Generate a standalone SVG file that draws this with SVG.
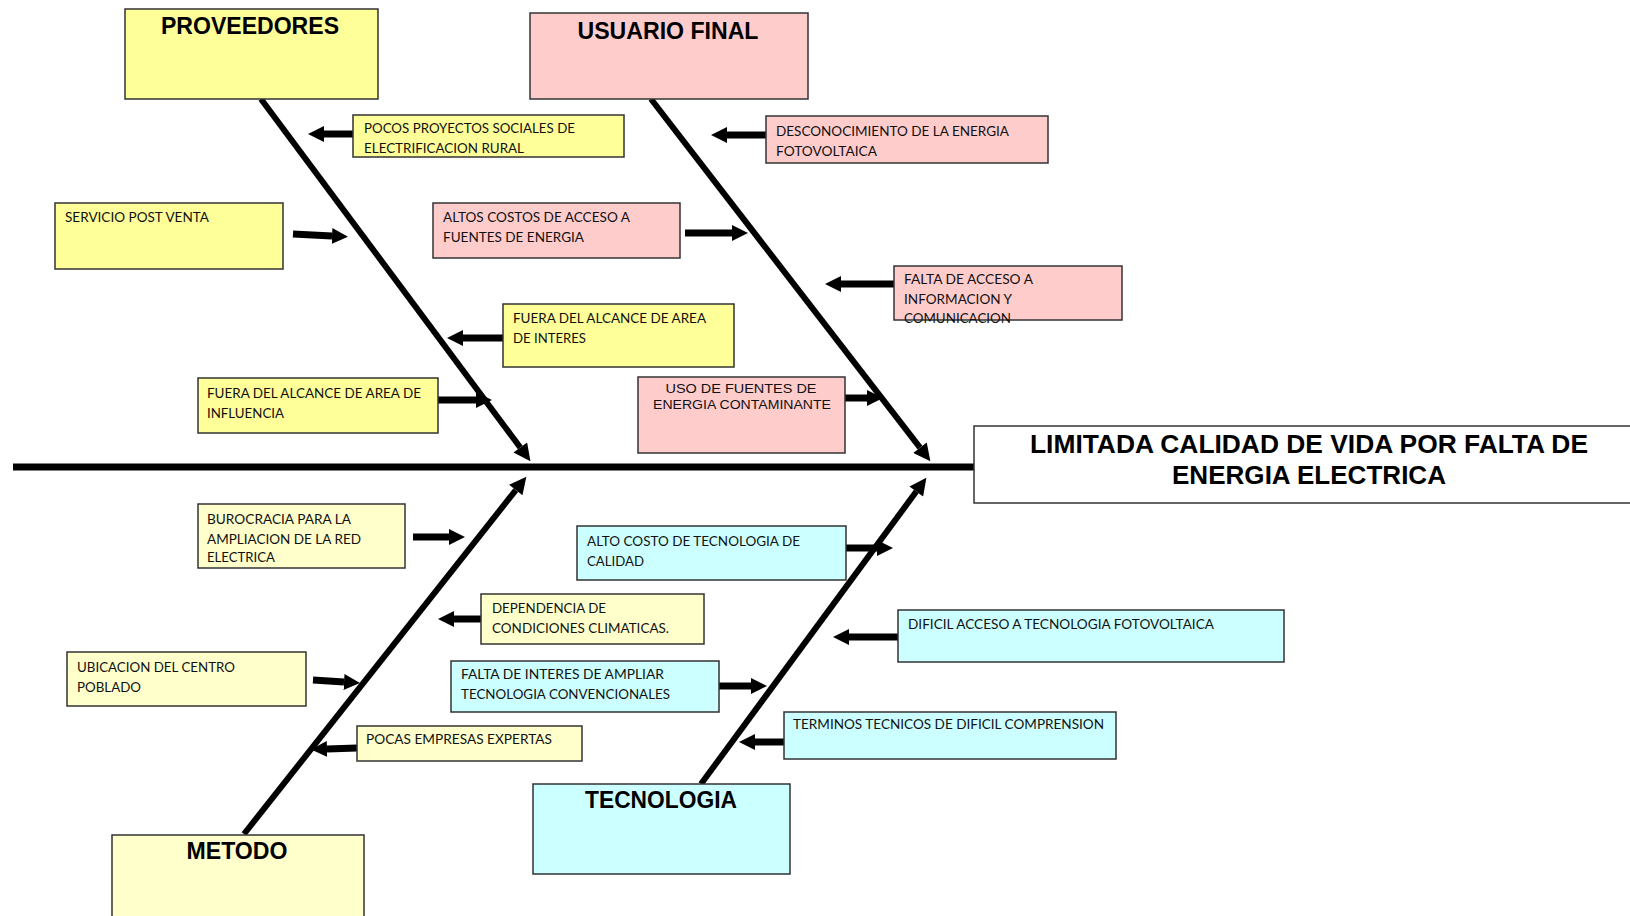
<svg xmlns="http://www.w3.org/2000/svg" width="1630" height="916" viewBox="0 0 1630 916">
  <style>
    .box { stroke: #333333; stroke-width: 1.5; }
    .prov { fill: #FFFF99; }
    .usu { fill: #FFCCCC; }
    .met { fill: #FFFFCC; }
    .tec { fill: #CCFFFF; }
    .head { font-family: "Liberation Sans", Arial, sans-serif; font-weight: bold; font-size: 23px; fill: #000; text-anchor: middle; }
    .title { font-family: "Liberation Sans", Arial, sans-serif; font-weight: bold; font-size: 25px; fill: #000; text-anchor: middle; }
    .lbl { font-family: Lato, "Open Sans", sans-serif; font-size: 13px; fill: #111; }
    .lbl2 { font-family: "Liberation Sans", Arial, sans-serif; font-size: 13px; fill: #111; text-anchor: middle; }
    .spine { stroke: #000; stroke-width: 6; fill: none; }
    .arr { stroke: #000; stroke-width: 7; fill: none; }
  </style>
  <defs>
    <marker id="bigHead" viewBox="0 0 10 10" refX="0" refY="5" markerUnits="userSpaceOnUse" markerWidth="19" markerHeight="17" orient="auto">
      <path d="M0,0 L10,5 L0,10 z" fill="#000"/>
    </marker>
    <marker id="smallHead" viewBox="0 0 10 10" refX="0" refY="5" markerUnits="userSpaceOnUse" markerWidth="16" markerHeight="19" orient="auto">
      <path d="M0,0 L10,5 L0,10 z" fill="#000"/>
    </marker>
  </defs>
  <rect width="1630" height="916" fill="#ffffff"/>

  <!-- spines and cause arrows -->
  <g id="connectors">
    <line x1="13" y1="467" x2="974" y2="467" stroke="#000" stroke-width="7"/>
    <line class="spine" x1="261" y1="99" x2="520.3" y2="447.5" marker-end="url(#bigHead)"/>
    <line class="spine" x1="651" y1="99" x2="920" y2="447.7" marker-end="url(#bigHead)"/>
    <line class="spine" x1="244" y1="834" x2="515.8" y2="490.1" marker-end="url(#bigHead)"/>
    <line class="spine" x1="701" y1="784" x2="916.3" y2="491.5" marker-end="url(#bigHead)"/>

    <line class="arr" x1="353" y1="134" x2="324" y2="134" marker-end="url(#smallHead)"/>
    <line class="arr" x1="293" y1="234" x2="332" y2="236" marker-end="url(#smallHead)"/>
    <line class="arr" x1="685" y1="233" x2="732" y2="233" marker-end="url(#smallHead)"/>
    <line class="arr" x1="766" y1="135" x2="727" y2="135" marker-end="url(#smallHead)"/>
    <line class="arr" x1="503" y1="338" x2="463" y2="338" marker-end="url(#smallHead)"/>
    <line class="arr" x1="438" y1="400" x2="476" y2="400" marker-end="url(#smallHead)"/>
    <line class="arr" x1="845" y1="398" x2="867" y2="398" marker-end="url(#smallHead)"/>
    <line class="arr" x1="894" y1="284" x2="841" y2="284" marker-end="url(#smallHead)"/>
    <line class="arr" x1="413" y1="537" x2="449" y2="537" marker-end="url(#smallHead)"/>
    <line class="arr" x1="846" y1="548" x2="877" y2="548" marker-end="url(#smallHead)"/>
    <line class="arr" x1="481" y1="619" x2="454" y2="619" marker-end="url(#smallHead)"/>
    <line class="arr" x1="313" y1="680" x2="344" y2="682" marker-end="url(#smallHead)"/>
    <line class="arr" x1="719" y1="686" x2="751" y2="686" marker-end="url(#smallHead)"/>
    <line class="arr" x1="357" y1="748" x2="327" y2="749" marker-end="url(#smallHead)"/>
    <line class="arr" x1="784" y1="742" x2="755" y2="742" marker-end="url(#smallHead)"/>
    <line class="arr" x1="898" y1="637" x2="849" y2="637" marker-end="url(#smallHead)"/>
  </g>

  <!-- effect -->
  <g id="efecto">
    <rect class="box" x="974" y="426" width="660" height="77" fill="#ffffff"/>
    <text class="title" x="1309" y="453" textLength="558" lengthAdjust="spacingAndGlyphs">LIMITADA CALIDAD DE VIDA POR FALTA DE</text>
    <text class="title" x="1309" y="484" textLength="274" lengthAdjust="spacingAndGlyphs">ENERGIA ELECTRICA</text>
  </g>

  <!-- category heads -->
  <g id="proveedores">
    <rect class="box prov" x="125" y="9" width="253" height="90"/>
    <text class="head" x="250" y="34" textLength="178" lengthAdjust="spacingAndGlyphs">PROVEEDORES</text>
  </g>
  <g id="usuario-final">
    <rect class="box usu" x="530" y="13" width="278" height="86"/>
    <text class="head" x="668" y="39" textLength="181" lengthAdjust="spacingAndGlyphs">USUARIO FINAL</text>
  </g>
  <g id="metodo">
    <rect class="box met" x="112" y="835" width="252" height="100"/>
    <text class="head" x="237" y="859" textLength="101" lengthAdjust="spacingAndGlyphs">METODO</text>
  </g>
  <g id="tecnologia">
    <rect class="box tec" x="533" y="784" width="257" height="90"/>
    <text class="head" x="661" y="808" textLength="152" lengthAdjust="spacingAndGlyphs">TECNOLOGIA</text>
  </g>

  <!-- causes: proveedores -->
  <g id="pocos-proyectos">
    <rect class="box prov" x="353" y="115" width="271" height="42"/>
    <text class="lbl" x="364" y="133" textLength="211" lengthAdjust="spacingAndGlyphs">POCOS PROYECTOS SOCIALES DE</text>
    <text class="lbl" x="364" y="153" textLength="160" lengthAdjust="spacingAndGlyphs">ELECTRIFICACION RURAL</text>
  </g>
  <g id="servicio-post-venta">
    <rect class="box prov" x="55" y="203" width="228" height="66"/>
    <text class="lbl" x="65" y="222" textLength="144" lengthAdjust="spacingAndGlyphs">SERVICIO POST VENTA</text>
  </g>
  <g id="fuera-area-interes">
    <rect class="box prov" x="503" y="304" width="231" height="63"/>
    <text class="lbl" x="513" y="323" textLength="193" lengthAdjust="spacingAndGlyphs">FUERA DEL ALCANCE DE AREA</text>
    <text class="lbl" x="513" y="343" textLength="73" lengthAdjust="spacingAndGlyphs">DE INTERES</text>
  </g>
  <g id="fuera-area-influencia">
    <rect class="box prov" x="198" y="378" width="240" height="55"/>
    <text class="lbl" x="207" y="398" textLength="214" lengthAdjust="spacingAndGlyphs">FUERA DEL ALCANCE DE AREA DE</text>
    <text class="lbl" x="207" y="418" textLength="77" lengthAdjust="spacingAndGlyphs">INFLUENCIA</text>
  </g>

  <!-- causes: usuario final -->
  <g id="desconocimiento">
    <rect class="box usu" x="766" y="116" width="282" height="47"/>
    <text class="lbl" x="776" y="136" textLength="233" lengthAdjust="spacingAndGlyphs">DESCONOCIMIENTO DE LA ENERGIA</text>
    <text class="lbl" x="776" y="156" textLength="101" lengthAdjust="spacingAndGlyphs">FOTOVOLTAICA</text>
  </g>
  <g id="altos-costos">
    <rect class="box usu" x="433" y="203" width="247" height="55"/>
    <text class="lbl" x="443" y="222" textLength="187" lengthAdjust="spacingAndGlyphs">ALTOS COSTOS DE ACCESO A</text>
    <text class="lbl" x="443" y="242" textLength="141" lengthAdjust="spacingAndGlyphs">FUENTES DE ENERGIA</text>
  </g>
  <g id="falta-acceso-informacion">
    <rect class="box usu" x="894" y="266" width="228" height="54"/>
    <text class="lbl" x="904" y="284" textLength="129" lengthAdjust="spacingAndGlyphs">FALTA DE ACCESO A</text>
    <text class="lbl" x="904" y="304" textLength="108" lengthAdjust="spacingAndGlyphs">INFORMACION Y</text>
    <text class="lbl" x="904" y="323" textLength="107" lengthAdjust="spacingAndGlyphs">COMUNICACION</text>
  </g>
  <g id="fuentes-contaminantes">
    <rect class="box usu" x="638" y="377" width="207" height="76"/>
    <text class="lbl2" x="741" y="393" textLength="151" lengthAdjust="spacingAndGlyphs">USO DE FUENTES DE</text>
    <text class="lbl2" x="742" y="409" textLength="178" lengthAdjust="spacingAndGlyphs">ENERGIA CONTAMINANTE</text>
  </g>

  <!-- causes: metodo -->
  <g id="burocracia">
    <rect class="box met" x="198" y="504" width="207" height="64"/>
    <text class="lbl" x="207" y="524" textLength="144" lengthAdjust="spacingAndGlyphs">BUROCRACIA PARA LA</text>
    <text class="lbl" x="207" y="544" textLength="154" lengthAdjust="spacingAndGlyphs">AMPLIACION DE LA RED</text>
    <text class="lbl" x="207" y="562" textLength="68" lengthAdjust="spacingAndGlyphs">ELECTRICA</text>
  </g>
  <g id="dependencia-climatica">
    <rect class="box met" x="481" y="594" width="223" height="50"/>
    <text class="lbl" x="492" y="613" textLength="114" lengthAdjust="spacingAndGlyphs">DEPENDENCIA DE</text>
    <text class="lbl" x="492" y="633" textLength="177" lengthAdjust="spacingAndGlyphs">CONDICIONES CLIMATICAS.</text>
  </g>
  <g id="ubicacion">
    <rect class="box met" x="67" y="652" width="239" height="54"/>
    <text class="lbl" x="77" y="672" textLength="158" lengthAdjust="spacingAndGlyphs">UBICACION DEL CENTRO</text>
    <text class="lbl" x="77" y="692" textLength="64" lengthAdjust="spacingAndGlyphs">POBLADO</text>
  </g>
  <g id="pocas-empresas">
    <rect class="box met" x="357" y="726" width="225" height="35"/>
    <text class="lbl" x="366" y="744" textLength="186" lengthAdjust="spacingAndGlyphs">POCAS EMPRESAS EXPERTAS</text>
  </g>

  <!-- causes: tecnologia -->
  <g id="alto-costo-tecnologia">
    <rect class="box tec" x="577" y="526" width="269" height="54"/>
    <text class="lbl" x="587" y="546" textLength="213" lengthAdjust="spacingAndGlyphs">ALTO COSTO DE TECNOLOGIA DE</text>
    <text class="lbl" x="587" y="566" textLength="57" lengthAdjust="spacingAndGlyphs">CALIDAD</text>
  </g>
  <g id="dificil-acceso">
    <rect class="box tec" x="898" y="610" width="386" height="52"/>
    <text class="lbl" x="908" y="629" textLength="306" lengthAdjust="spacingAndGlyphs">DIFICIL ACCESO A TECNOLOGIA FOTOVOLTAICA</text>
  </g>
  <g id="falta-interes">
    <rect class="box tec" x="451" y="661" width="268" height="51"/>
    <text class="lbl" x="461" y="679" textLength="203" lengthAdjust="spacingAndGlyphs">FALTA DE INTERES DE AMPLIAR</text>
    <text class="lbl" x="461" y="699" textLength="209" lengthAdjust="spacingAndGlyphs">TECNOLOGIA CONVENCIONALES</text>
  </g>
  <g id="terminos-tecnicos">
    <rect class="box tec" x="784" y="712" width="332" height="47"/>
    <text class="lbl" x="793" y="729" textLength="311" lengthAdjust="spacingAndGlyphs">TERMINOS TECNICOS DE DIFICIL COMPRENSION</text>
  </g>
</svg>
